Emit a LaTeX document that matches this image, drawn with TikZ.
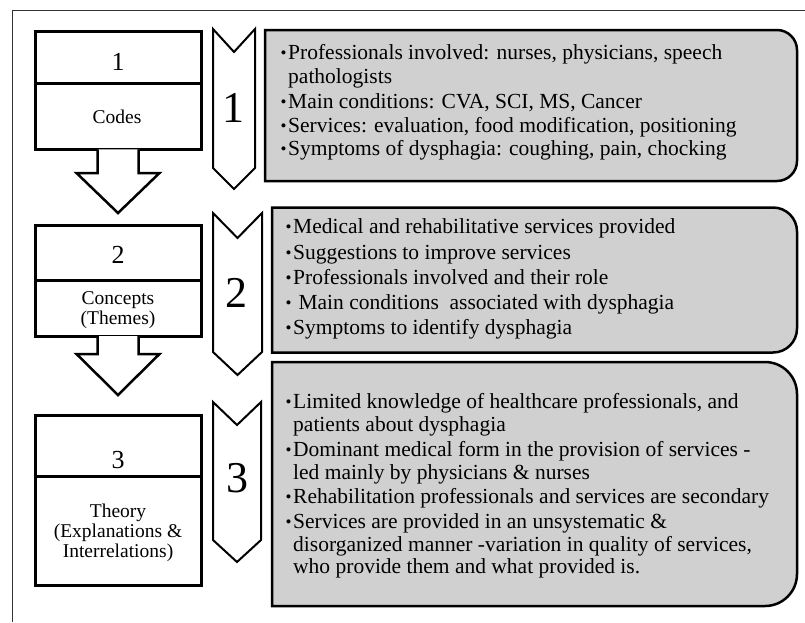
\documentclass[tikz,border=0pt]{standalone}
\usepackage{fontspec}
\setmainfont{Liberation Serif}
\usetikzlibrary{calc}
\definecolor{boxgray}{RGB}{208,208,208}
\definecolor{framegray}{RGB}{50,50,50}
\newcommand\blt{\makebox[7pt][l]{\hspace*{-0.5pt}\raisebox{1pt}{\fontsize{17}{17}\selectfont •}}}
\begin{document}
\begin{tikzpicture}[x=1pt,y=-1pt,
  frameline/.style={draw=framegray, line width=1.8pt},
  lbox/.style={draw=black, line width=3pt, fill=white, outer sep=0pt, inner sep=0pt, minimum width=166pt},
  chev/.style={draw=black, line width=2pt, fill=white, line join=miter},
  darrow/.style={draw=black, line width=2.5pt, fill=white, line join=miter},
  gbox/.style={draw=black, line width=2.5pt, fill=boxgray},
  txt/.style={anchor=base west, inner sep=0pt, font=\fontsize{21.5}{24}\selectfont},
  ltxt/.style={anchor=base, inner sep=0pt, font=\fontsize{19.5}{20}\selectfont},
  num/.style={anchor=base, inner sep=0pt, font=\fontsize{26}{26}\selectfont},
  cnum/.style={anchor=base, inner sep=0pt, font=\fontsize{44}{44}\selectfont}]
\useasboundingbox (0,0) rectangle (805,622);
\fill[white] (0,0) rectangle (805,622);
% outer frame (cropped)
\draw[frameline] (12.5,622) -- (12.5,10.5) -- (805,10.5);

% left boxes
\node[lbox, minimum height=52.3pt] (b1t) at (118,57.15) {};
\node[lbox, minimum height=66pt, anchor=north] (b1b) at (b1t.south) {};
\node[lbox, minimum height=55.3pt] (b2t) at (118,252.65) {};
\node[lbox, minimum height=55.7pt, anchor=north] (b2b) at (b2t.south) {};
\node[lbox, minimum height=61.7pt] (b3t) at (118,445.85) {};
\node[lbox, minimum height=108.3pt, anchor=north] (b3b) at (b3t.south) {};

% block arrows
\draw[darrow] ($(b1b.south)+(-20.5,0)$) -- ++(0,23.7) -- ++(-21,0) -- ($(b1b.south)+(0,63.7)$)
  -- ($(b1b.south)+(41.5,23.7)$) -- ++(-21,0) -- ($(b1b.south)+(20.5,0)$);
\draw[darrow] ($(b2b.south)+(-20.5,0)$) -- ++(0,18) -- ++(-21,0) -- ($(b2b.south)+(0,59)$)
  -- ($(b2b.south)+(41.5,18)$) -- ++(-21,0) -- ($(b2b.south)+(20.5,0)$);

% left box texts
\node[num] (n1) at (118,70) {1};
\node[ltxt] (t1) at (117,123) {Codes};
\node[num] (n2) at (118,263) {2};
\node[ltxt] (t2a) at (118,304) {Concepts};
\node[ltxt] (t2b) at (118,324) {(Themes)};
\node[num] (n3) at (118,468) {3};
\node[ltxt] (t3a) at (118,517) {Theory};
\node[ltxt] (t3b) at (118,537) {(Explanations \&};
\node[ltxt] (t3c) at (118,557) {Interrelations)};

% chevrons
\draw[chev] (213,29) -- (234,52) -- (255,29) -- (255,168) -- (234,189) -- (213,168) -- cycle;
\draw[chev] (213,213) -- (237.5,238) -- (262,213) -- (262,352) -- (237.5,375) -- (213,352) -- cycle;
\draw[chev] (213,402) -- (237,425) -- (261,402) -- (261,540) -- (237,562) -- (213,540) -- cycle;
\node[cnum] (c1) at (233,122) {1};
\node[cnum] (c2) at (236,307) {2};
\node[cnum] (c3) at (237,492) {3};

% gray boxes
\draw[gbox] (265,30) -- (777,30) .. controls (788,30) and (797,39) .. (797,50)
  -- (797,161) .. controls (797,172) and (788,181) .. (777,181) -- (265,181) -- cycle;
\draw[gbox] (272,207.5) -- (773,207.5) .. controls (786.3,207.5) and (797,218.2) .. (797,231.5)
  -- (797,328.5) .. controls (797,341.8) and (786.3,352.5) .. (773,352.5) -- (272,352.5) -- cycle;
\draw[gbox] (272,362) -- (765,362) .. controls (782.7,362) and (797,376.3) .. (797,394)
  -- (797,574) .. controls (797,591.7) and (782.7,606) .. (765,606) -- (272,606) -- cycle;

% box A text
\node[txt] (a1) at (281,59) {\blt Professionals involved: nurses, physicians, speech};
\node[txt] (a2) at (288,83) {pathologists};
\node[txt] (a3) at (281,108) {\blt Main conditions: CVA, SCI, MS, Cancer};
\node[txt] (a4) at (281,132) {\blt Services: evaluation, food modification, positioning};
\node[txt] (a5) at (281,155) {\blt Symptoms of dysphagia: coughing, pain, chocking};

% box B text
\node[txt] (m1) at (286,233) {\blt Medical and rehabilitative services provided};
\node[txt] (m2) at (286,259) {\blt Suggestions to improve services};
\node[txt] (m3) at (286,284) {\blt Professionals involved and their role};
\node[txt] (m4) at (286,309) {\blt\ Main conditions\ \ associated with dysphagia};
\node[txt] (m5) at (286,334) {\blt Symptoms to identify dysphagia};

% box C text
\node[txt] (r1) at (286,408) {\blt Limited knowledge of healthcare professionals, and};
\node[txt] (r2) at (293,431) {patients about dysphagia};
\node[txt] (r3) at (286,456) {\blt Dominant medical form in the provision of services -};
\node[txt] (r4) at (293,479) {led mainly by physicians \& nurses};
\node[txt] (r5) at (286,503) {\blt Rehabilitation professionals and services are secondary};
\node[txt] (r6) at (286,528) {\blt Services are provided in an unsystematic \&};
\node[txt] (r7) at (293,551) {disorganized manner -variation in quality of services,};
\node[txt] (r8) at (293,573) {who provide them and what provided is.};
\end{tikzpicture}
\end{document}
